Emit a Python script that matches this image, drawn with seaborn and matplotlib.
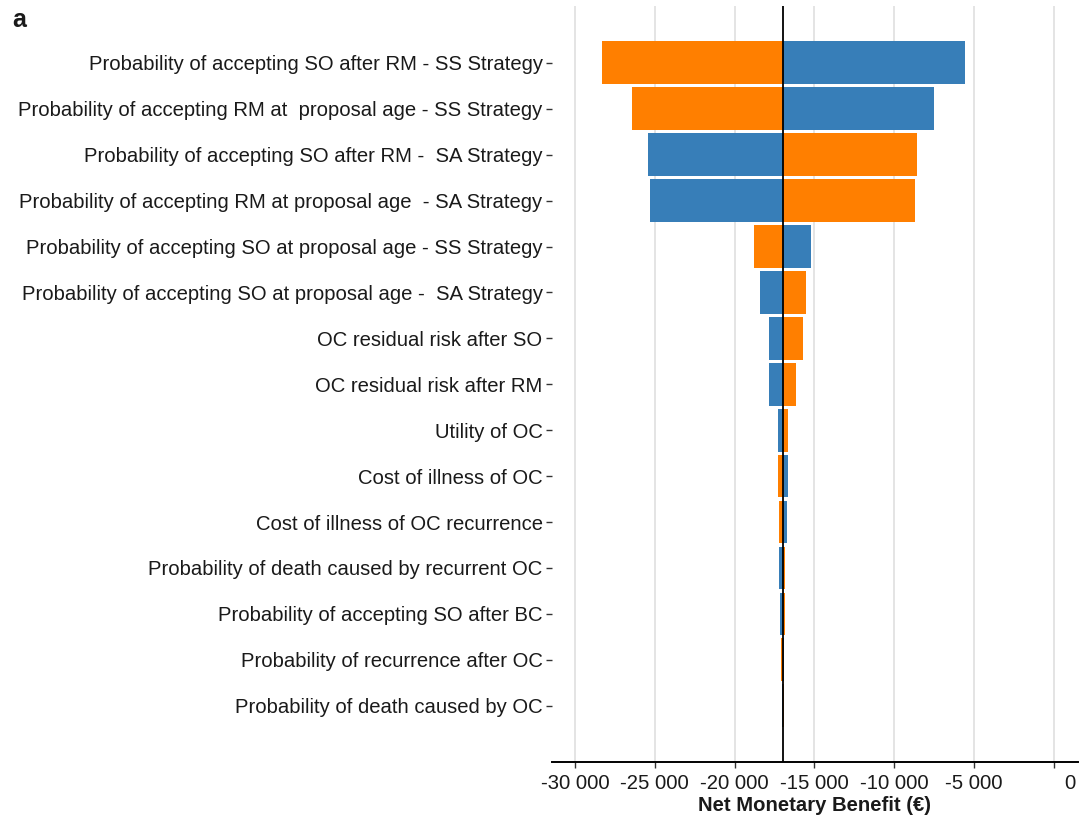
import numpy as np
import pandas as pd
import seaborn as sns
import matplotlib
matplotlib.use('Agg')
from matplotlib import pyplot as plt
from matplotlib import transforms

# one-way sensitivity results (net monetary benefit, EUR)
params = [
  "Probability of accepting SO after RM - SS Strategy",
  "Probability of accepting RM at  proposal age - SS Strategy",
  "Probability of accepting SO after RM -  SA Strategy",
  "Probability of accepting RM at proposal age  - SA Strategy",
  "Probability of accepting SO at proposal age - SS Strategy",
  "Probability of accepting SO at proposal age -  SA Strategy",
  "OC residual risk after SO",
  "OC residual risk after RM",
  "Utility of OC",
  "Cost of illness of OC",
  "Cost of illness of OC recurrence",
  "Probability of death caused by recurrent OC",
  "Probability of accepting SO after BC",
  "Probability of recurrence after OC",
  "Probability of death caused by OC",
]
orange_nmb = [-28300, -26400, -8550, -8690, -18770, -15540, -15730, -16150,
              -16680, -17270, -17250, -16820, -16820, -17090, -16930]
blue_nmb = [-5600, -7520, -25420, -25270, -15190, -18400, -17830, -17840,
            -17260, -16670, -16710, -17220, -17180, -16880, -17040]
base_nmb = -16955
x_ticks = [-30000, -25000, -20000, -15000, -10000, -5000, 0]
x_limits = [-31460, 1500]

colors = {"orange": "#FF7F00", "blue": "#377EB8"}

df = pd.DataFrame({
  "param": params * 2,
  "side": ["orange"] * len(params) + ["blue"] * len(params),
  "nmb": orange_nmb + blue_nmb,
})
# bars start at the base case, so draw the difference from it
df["delta"] = df["nmb"] - base_nmb

sns.set_style("white")
plt.rcParams['font.family'] = ['Liberation Sans', 'DejaVu Sans']
text_col = "#1a1a1a"
fs = 14.6

fig = plt.figure(figsize=(10.87, 8.18), dpi=100)
ax = fig.add_axes([0.5075, 0.0688, 0.4842, 0.924])

sns.barplot(data=df, y="param", x="delta", hue="side", order=params,
            palette=colors, dodge=False, width=0.93, orient="h",
            errorbar=None, legend=False, linewidth=0,
            saturation=1, ax=ax, zorder=2)

ax.axvline(0, color="black", linewidth=1.3, zorder=3)

ticks = np.array(x_ticks)
ax.set_xticks(ticks - base_nmb)
ax.set_xticklabels([f"{v:,}".replace(",", " ") for v in x_ticks])
ax.set_xlim(x_limits[0] - base_nmb, x_limits[1] - base_nmb)
ax.set_ylim(len(params) - 1 + 1.22, -1.24)

ax.grid(axis="x", color="#dcdcdc", linewidth=1.1, zorder=0)
ax.grid(axis="y", visible=False)
ax.set_axisbelow(True)
for s in ["top", "right", "left"]:
  ax.spines[s].set_visible(False)
ax.spines["bottom"].set_color("black")
ax.spines["bottom"].set_linewidth(1.4)

ax.tick_params(axis="both", labelsize=fs, colors="#333333", labelcolor=text_col,
               length=4, width=1.0, pad=2.5)
ax.tick_params(axis="x", bottom=True, pad=4.5)
ax.tick_params(axis="y", left=True)

# the zero label sits a bit to the right of its tick in the reference
zero_lab = ax.get_xticklabels()[-1]
zero_lab.set_transform(zero_lab.get_transform() +
                       transforms.ScaledTranslation(16 / 100, 0, fig.dpi_scale_trans))

ax.set_ylabel("")
ax.set_xlabel("Net Monetary Benefit (€)", fontsize=fs, fontweight="bold",
              color=text_col, labelpad=2.5)

fig.text(0.011, 0.975, "a", fontsize=18, fontweight="bold", color=text_col,
         va="center", ha="left")

fig.savefig("out.png", dpi=100)
plt.close()
